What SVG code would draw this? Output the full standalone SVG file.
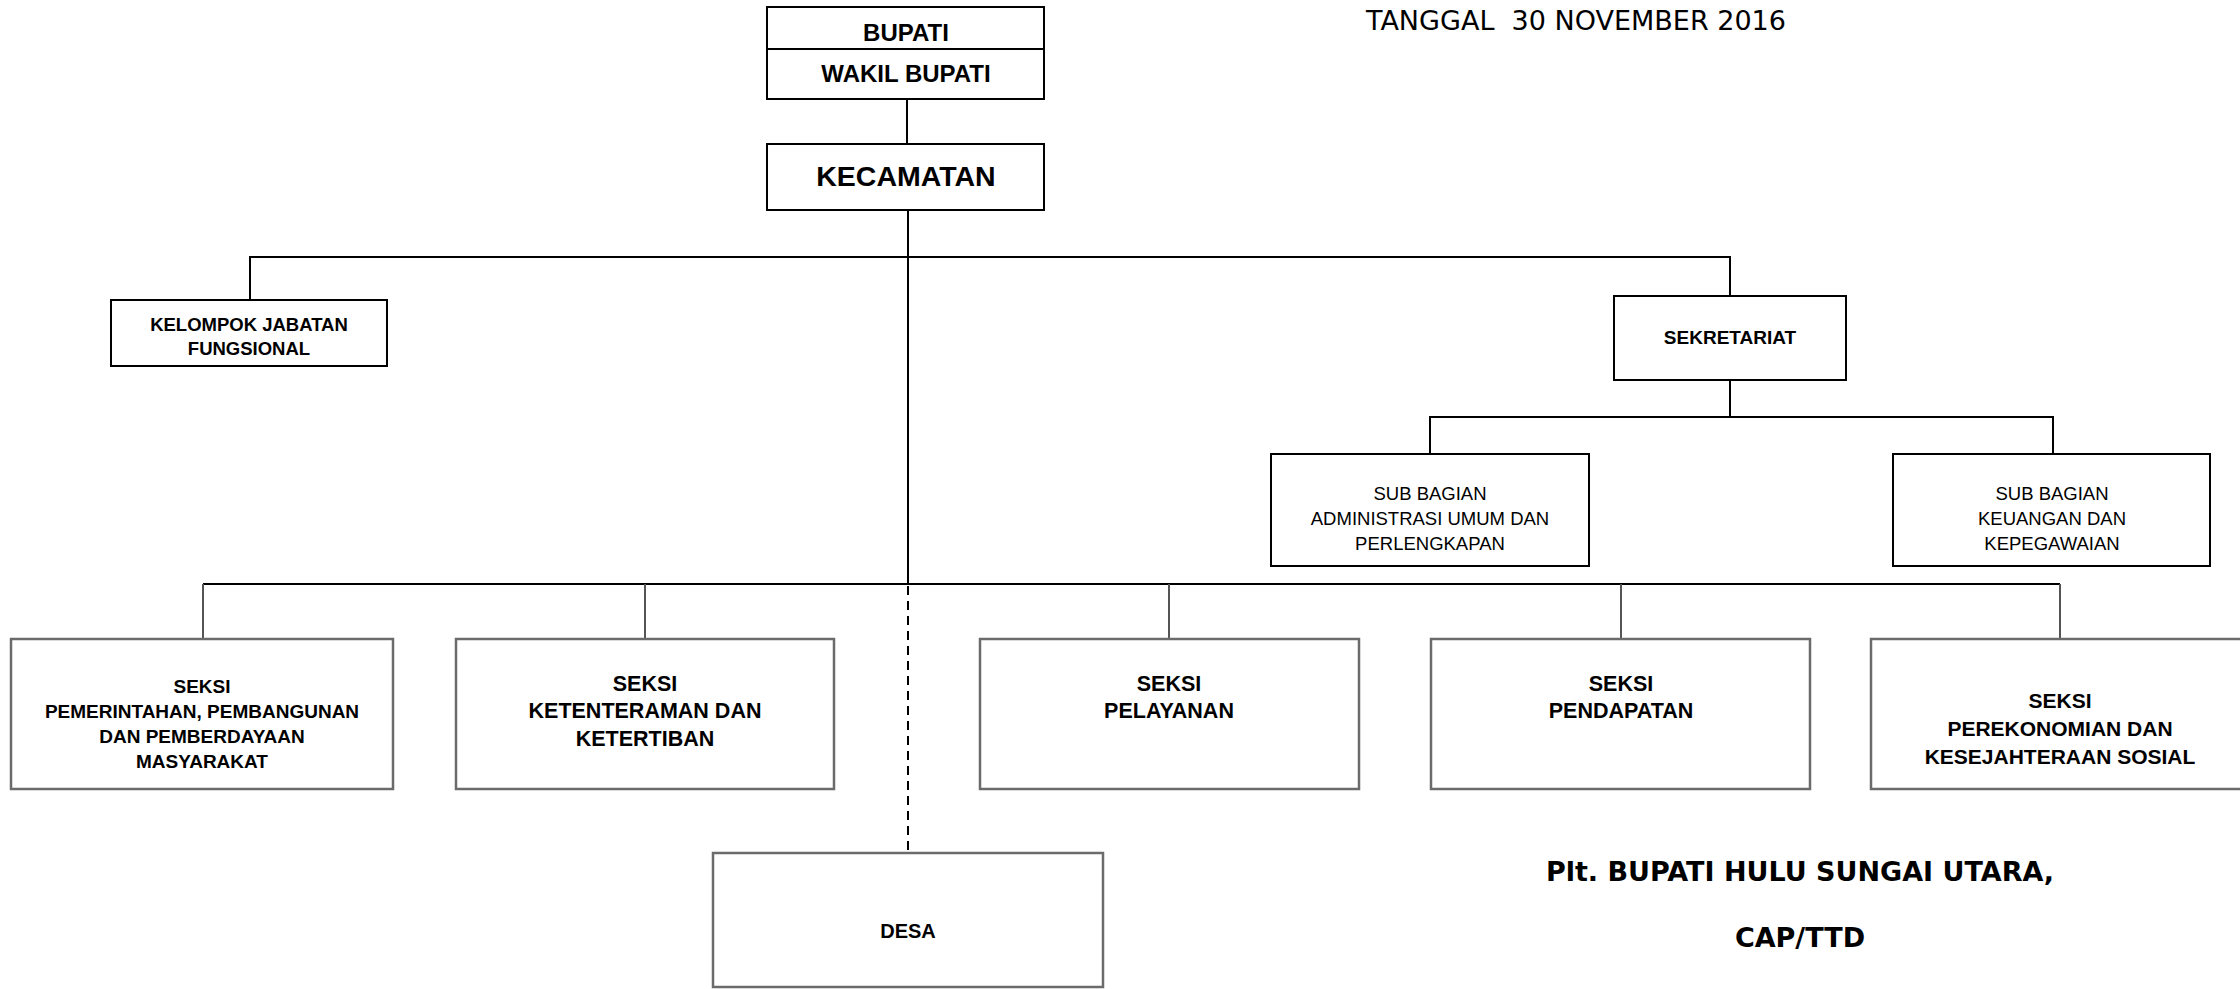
<svg xmlns="http://www.w3.org/2000/svg" width="2240" height="989" viewBox="0 0 2240 989">
<style>
.bk{fill:#fff;stroke:#000;stroke-width:2}
.gr{fill:#fff;stroke:#6b6b6b;stroke-width:2.5}
.t{font-family:"Liberation Sans",Arial,sans-serif;font-weight:bold;text-anchor:middle;fill:#000}
.r{font-family:"Liberation Sans",Arial,sans-serif;text-anchor:middle;fill:#000}
.v{font-family:"DejaVu Sans",Verdana,sans-serif;fill:#000;white-space:pre}
.cn{stroke:#000;stroke-width:2;fill:none}
.cg{stroke:#555;stroke-width:2;fill:none}
</style>
<g id="connectors">
<line class="cn" x1="907" y1="99" x2="907" y2="144"/>
<line class="cn" x1="908" y1="210" x2="908" y2="584"/>
<polyline class="cn" points="250,300 250,257 1730,257 1730,296"/>
<line class="cn" x1="1730" y1="380" x2="1730" y2="417"/>
<polyline class="cn" points="1430,454 1430,417 2053,417 2053,454"/>
<line class="cn" x1="203" y1="584" x2="2060" y2="584"/>
<line class="cg" x1="203" y1="584" x2="203" y2="639"/>
<line class="cg" x1="645" y1="584" x2="645" y2="639"/>
<line class="cg" x1="1169" y1="584" x2="1169" y2="639"/>
<line class="cg" x1="1621" y1="584" x2="1621" y2="639"/>
<line class="cg" x1="2060" y1="584" x2="2060" y2="639"/>
<line x1="908" y1="586" x2="908" y2="852" stroke="#000" stroke-width="2" stroke-dasharray="9,6"/>
</g>
<g id="bupati">
<rect class="bk" x="767" y="7" width="277" height="92"/>
<line class="cn" x1="767" y1="49" x2="1044" y2="49"/>
<text class="t" x="906" y="41" font-size="24">BUPATI</text>
<text class="t" x="906" y="82" font-size="24">WAKIL BUPATI</text>
</g>
<g id="kecamatan">
<rect class="bk" x="767" y="144" width="277" height="66"/>
<text class="t" x="906" y="186" font-size="28.5">KECAMATAN</text>
</g>
<g id="kelompok">
<rect class="bk" x="111" y="300" width="276" height="66"/>
<text class="t" x="249" y="331" font-size="18.5">KELOMPOK JABATAN</text>
<text class="t" x="249" y="355" font-size="18.5">FUNGSIONAL</text>
</g>
<g id="sekretariat">
<rect class="bk" x="1614" y="296" width="232" height="84"/>
<text class="t" x="1730" y="344" font-size="19">SEKRETARIAT</text>
</g>
<g id="subbag-umum">
<rect class="bk" x="1271" y="454" width="318" height="112"/>
<text class="r" x="1430" y="500" font-size="18.5">SUB BAGIAN</text>
<text class="r" x="1430" y="525" font-size="18.5">ADMINISTRASI UMUM DAN</text>
<text class="r" x="1430" y="550" font-size="18.5">PERLENGKAPAN</text>
</g>
<g id="subbag-keu">
<rect class="bk" x="1893" y="454" width="317" height="112"/>
<text class="r" x="2052" y="500" font-size="18.5">SUB BAGIAN</text>
<text class="r" x="2052" y="525" font-size="18.5">KEUANGAN DAN</text>
<text class="r" x="2052" y="550" font-size="18.5">KEPEGAWAIAN</text>
</g>
<g id="seksi-pemerintahan">
<rect class="gr" x="11" y="639" width="382" height="150"/>
<text class="t" x="202" y="693" font-size="19">SEKSI</text>
<text class="t" x="202" y="718" font-size="19">PEMERINTAHAN, PEMBANGUNAN</text>
<text class="t" x="202" y="743" font-size="19">DAN PEMBERDAYAAN</text>
<text class="t" x="202" y="768" font-size="19">MASYARAKAT</text>
</g>
<g id="seksi-ketenteraman">
<rect class="gr" x="456" y="639" width="378" height="150"/>
<text class="t" x="645" y="691" font-size="21.5">SEKSI</text>
<text class="t" x="645" y="718" font-size="21.5">KETENTERAMAN DAN</text>
<text class="t" x="645" y="746" font-size="21.5">KETERTIBAN</text>
</g>
<g id="seksi-pelayanan">
<rect class="gr" x="980" y="639" width="379" height="150"/>
<text class="t" x="1169" y="691" font-size="21.5">SEKSI</text>
<text class="t" x="1169" y="718" font-size="21.5">PELAYANAN</text>
</g>
<g id="seksi-pendapatan">
<rect class="gr" x="1431" y="639" width="379" height="150"/>
<text class="t" x="1621" y="691" font-size="21.5">SEKSI</text>
<text class="t" x="1621" y="718" font-size="21.5">PENDAPATAN</text>
</g>
<g id="seksi-perekonomian">
<rect class="gr" x="1871" y="639" width="380" height="150"/>
<text class="t" x="2060" y="708" font-size="21">SEKSI</text>
<text class="t" x="2060" y="736" font-size="21">PEREKONOMIAN DAN</text>
<text class="t" x="2060" y="764" font-size="21">KESEJAHTERAAN SOSIAL</text>
</g>
<g id="desa">
<rect class="gr" x="713" y="853" width="390" height="134"/>
<text class="t" x="908" y="938" font-size="20">DESA</text>
</g>
<g id="labels">
<text class="v" x="1366" y="30" font-size="27" xml:space="preserve">TANGGAL  30 NOVEMBER 2016</text>
<text class="v" x="1800" y="881" font-size="27" font-weight="bold" text-anchor="middle">Plt. BUPATI HULU SUNGAI UTARA,</text>
<text class="v" x="1800" y="947" font-size="27" font-weight="bold" text-anchor="middle">CAP/TTD</text>
</g>
</svg>
